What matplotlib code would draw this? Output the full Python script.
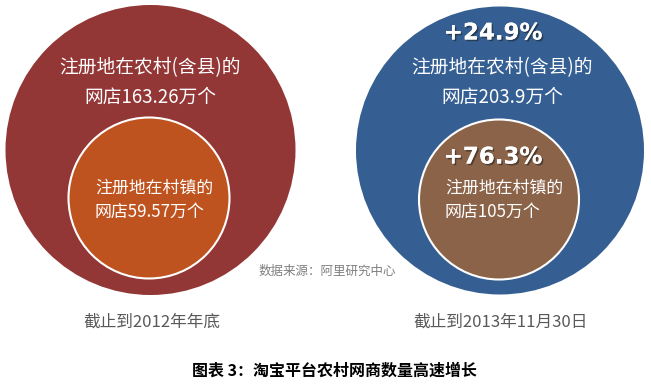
import matplotlib
matplotlib.use("Agg")
import matplotlib.pyplot as plt
from matplotlib.patches import Circle
import matplotlib.patheffects as pe

plt.rcParams['font.family'] = ['Noto Sans CJK SC', 'DejaVu Sans']

# Data
periods = ["截止到2012年年底", "截止到2013年11月30日"]
county_shops = [163.26, 203.9]     # 万个, registered in rural areas (incl. county)
town_shops = [59.57, 105]          # 万个, registered in villages/towns
county_growth = [None, "+24.9%"]
town_growth = [None, "+76.3%"]
outer_colors = ["#933636", "#355F92"]
inner_colors = ["#BF531F", "#8A6349"]
source = "数据来源：阿里研究中心"
title = "图表 3：淘宝平台农村网商数量高速增长"

W, H = 651, 384
fig = plt.figure(figsize=(W / 100, H / 100), dpi=100)
ax = fig.add_axes([0, 0, 1, 1])
ax.set_xlim(0, W)
ax.set_ylim(H, 0)
ax.set_aspect('equal')
ax.axis('off')

outer_centers = [(150.5, 150), (500, 150.5)]
outer_r = [145, 144]
inner_centers = [(149, 198), (499, 199.5)]
inner_r = [80.5, 80]
inner_text_x = [95, 445]

shadow = [pe.withSimplePatchShadow(offset=(1.2, -1.2), shadow_rgbFace='#1a1a1a', alpha=0.5), pe.Normal()]

def fmt(v):
    return f"{v:g}"

for i in range(2):
    ax.add_patch(Circle(outer_centers[i], outer_r[i], facecolor=outer_colors[i], edgecolor='none'))
    ax.add_patch(Circle(inner_centers[i], inner_r[i], facecolor=inner_colors[i], edgecolor='white', linewidth=1.5))
    cx = outer_centers[i][0]
    ax.text(cx + (0 if i == 0 else 2), 68, "注册地在农村(含县)的", color='white', fontsize=13.5,
            ha='center', va='center')
    ax.text(cx + (0 if i == 0 else 2), 97, f"网店{fmt(county_shops[i])}万个", color='white', fontsize=13.5,
            ha='center', va='center')
    ax.text(inner_text_x[i], 188, "注册地在村镇的", color='white', fontsize=12.2,
            ha='left', va='center')
    ax.text(inner_text_x[i], 212, f"网店{fmt(town_shops[i])}万个", color='white', fontsize=12.2,
            ha='left', va='center')
    if county_growth[i]:
        ax.text(493, 33, county_growth[i], color='white', fontsize=16.5, fontweight='bold',
                family='DejaVu Sans', ha='center', va='center', path_effects=shadow)
    if town_growth[i]:
        ax.text(493, 157, town_growth[i], color='white', fontsize=16.5, fontweight='bold',
                family='DejaVu Sans', ha='center', va='center', path_effects=shadow)
    ax.text(outer_centers[i][0] + 1, 322, periods[i], color='#595959', fontsize=12,
            ha='center', va='center')

ax.text(327, 271, source, color='#7f7f7f', fontsize=9, ha='center', va='center')
ax.text(334, 371, title, color='black', fontsize=11.5, fontweight='bold', ha='center', va='center')

fig.savefig("out.png", dpi=100)
